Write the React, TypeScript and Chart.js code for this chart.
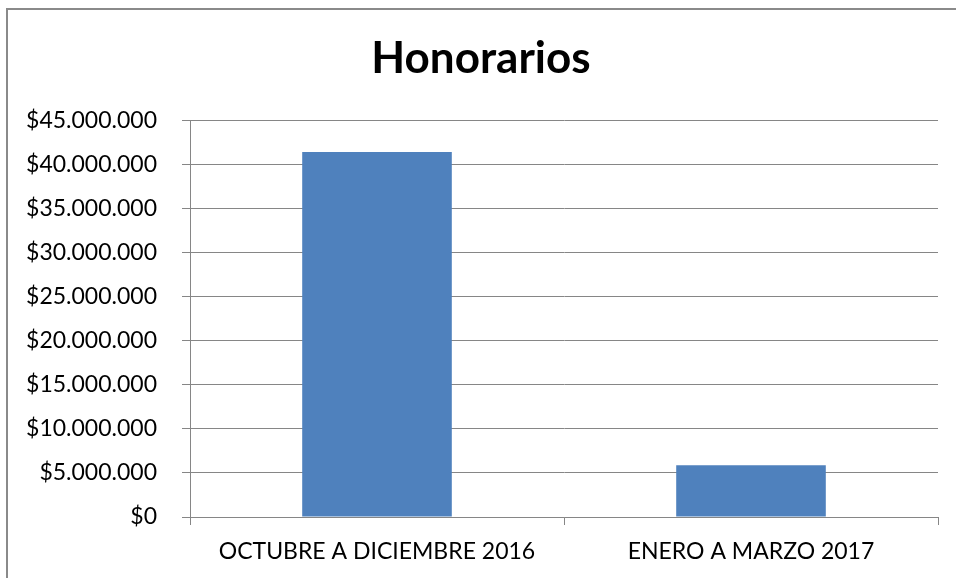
import React, { useEffect, useRef } from "react";
import { Chart, registerables } from "chart.js";

Chart.register(...registerables);

const TITLE = "Honorarios";
const categories = ["OCTUBRE A DICIEMBRE 2016", "ENERO A MARZO 2017"];
const honorarios = [41450000, 5870000];
const yMin = 0;
const yMax = 45000000;
const yStep = 5000000;

const BAR_COLOR = "#4F81BD";
const GRID = "#868686";
const FONT = "Lato, 'Open Sans', sans-serif";

function formatPesos(v: number): string {
  const s = Math.round(v).toString().replace(/\B(?=(\d{3})+(?!\d))/g, ".");
  return "$" + s;
}

export default function App() {
  const ref = useRef<HTMLCanvasElement | null>(null);

  useEffect(() => {
    if (!ref.current) return;
    const chart = new Chart(ref.current, {
      type: "bar",
      data: {
        labels: categories,
        datasets: [
          {
            label: TITLE,
            data: honorarios,
            backgroundColor: BAR_COLOR,
            borderWidth: 0,
            barPercentage: 0.4,
            categoryPercentage: 1,
          },
        ],
      },
      options: {
        animation: false,
        responsive: false,
        devicePixelRatio: 1,
        layout: { padding: { left: 24, right: 18, top: 0, bottom: 0 } },
        plugins: {
          legend: { display: false },
          tooltip: { enabled: false },
          title: {
            display: true,
            text: TITLE,
            color: "#000",
            font: { family: FONT, size: 44, weight: "bold", lineHeight: 1.2 },
            padding: { top: 32, bottom: 36 },
          },
        },
        scales: {
          x: {
            afterFit: (s: any) => {
              s.height = 61;
            },
            grid: {
              offset: true,
              drawOnChartArea: false,
              drawTicks: true,
              tickLength: 8,
              color: GRID,
            },
            border: { display: true, color: GRID },
            ticks: {
              color: "#000",
              padding: 13,
              font: { family: FONT, size: 23 },
              maxRotation: 0,
            },
          },
          y: {
            min: yMin,
            max: yMax,
            afterFit: (s: any) => {
              s.width = 166;
            },
            grid: { color: GRID, tickLength: 8, drawTicks: true },
            border: { display: true, color: GRID },
            ticks: {
              stepSize: yStep,
              color: "#000",
              padding: 25,
              font: { family: FONT, size: 23 },
              callback: (v: any) => formatPesos(Number(v)),
            },
          },
        },
      },
    });
    return () => chart.destroy();
  }, []);

  return (
    <div
      style={{
        position: "fixed",
        left: 0,
        top: 0,
        width: 956,
        height: 578,
        overflow: "hidden",
        background: "#fff",
      }}
    >
      <div
        style={{
          position: "absolute",
          left: 6,
          top: 8,
          width: 2000,
          height: 2000,
          borderTop: "2px solid #8a8a8a",
          borderLeft: "2px solid #8a8a8a",
        }}
      />
      <canvas
        ref={ref}
        width={956}
        height={578}
        style={{ position: "absolute", left: 0, top: 0, width: 956, height: 578 }}
      />
    </div>
  );
}
